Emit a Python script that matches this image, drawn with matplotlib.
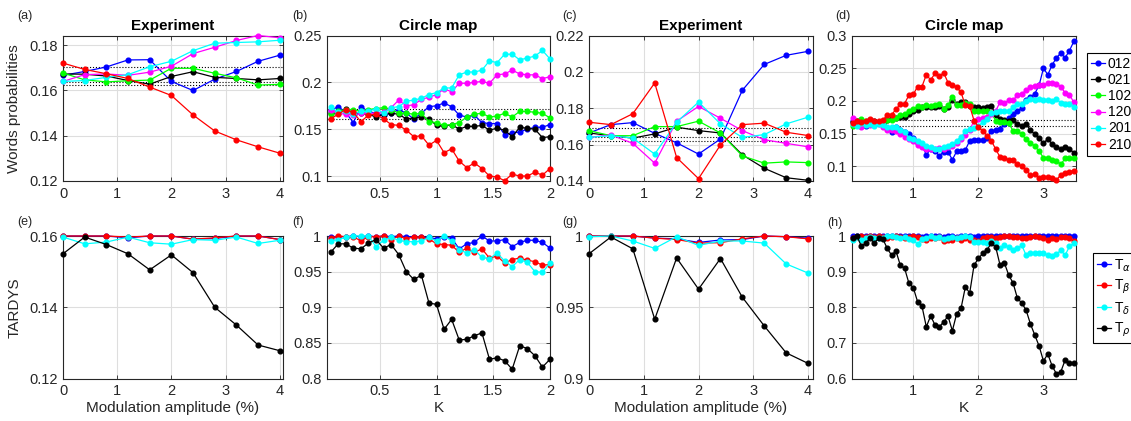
"""Words probabilities / TARDYS: experiment vs circle map, 2x4 panels."""
import numpy as np
import matplotlib
matplotlib.use("Agg")
import matplotlib.pyplot as plt

plt.rcParams['font.family'] = ['Liberation Sans', 'DejaVu Sans']

# ---- x values ----
amp = np.linspace(0, 4, 11)          # modulation amplitude (%)
K30 = np.arange(1, 31) / 15          # circle map K, panels (b), (f)
K52 = np.arange(1, 53) / 15          # circle map K, panels (d), (h)

words = ['012', '021', '102', '120', '201', '210']
word_colors = ['#0000ff', '#000000', '#00ff00', '#ff00ff', '#00ffff', '#ff0000']
tardys = ['T$_\\alpha$', 'T$_\\beta$', 'T$_\\delta$', 'T$_\\rho$']
tardys_colors = ['#0000ff', '#ff0000', '#00ffff', '#000000']

# ---- (a) experiment, words ----
a_012 = [0.1667, 0.1684, 0.1704, 0.1735, 0.1736, 0.1640, 0.1600, 0.1650, 0.1684, 0.1729, 0.1756]
a_021 = [0.1673, 0.1672, 0.1664, 0.1644, 0.1628, 0.1662, 0.1683, 0.1658, 0.1653, 0.1647, 0.1653]
a_102 = [0.1677, 0.1647, 0.1638, 0.1643, 0.1646, 0.1698, 0.1698, 0.1676, 0.1656, 0.1624, 0.1627]
a_120 = [0.1640, 0.1670, 0.1673, 0.1667, 0.1681, 0.1707, 0.1763, 0.1791, 0.1821, 0.1843, 0.1833]
a_201 = [0.1640, 0.1644, 0.1658, 0.1670, 0.1705, 0.1729, 0.1776, 0.1809, 0.1812, 0.1815, 0.1822]
a_210 = [0.1721, 0.1693, 0.1674, 0.1653, 0.1615, 0.1578, 0.1492, 0.1421, 0.1382, 0.1351, 0.1323]
a_bounds = [0.1704, 0.1636, 0.1625]

# ---- (b) circle map, words ----
b_012 = [0.170, 0.174, 0.168, 0.157, 0.174, 0.169, 0.167, 0.165, 0.167, 0.171, 0.167, 0.161, 0.167, 0.174, 0.175,
         0.178, 0.174, 0.165, 0.163, 0.165, 0.157, 0.156, 0.156, 0.144, 0.146, 0.147, 0.150, 0.152, 0.152, 0.155]
b_021 = [0.167, 0.167, 0.172, 0.167, 0.167, 0.166, 0.163, 0.166, 0.167, 0.166, 0.161, 0.162, 0.163, 0.161, 0.154,
         0.153, 0.155, 0.150, 0.153, 0.153, 0.154, 0.149, 0.151, 0.149, 0.142, 0.152, 0.151, 0.150, 0.141, 0.142]
b_102 = [0.166, 0.169, 0.171, 0.171, 0.169, 0.171, 0.172, 0.173, 0.171, 0.167, 0.167, 0.166, 0.167, 0.158, 0.157,
         0.154, 0.155, 0.157, 0.163, 0.166, 0.167, 0.163, 0.164, 0.167, 0.163, 0.169, 0.169, 0.168, 0.167, 0.162]
b_120 = [0.170, 0.167, 0.166, 0.165, 0.167, 0.167, 0.167, 0.168, 0.173, 0.181, 0.175, 0.176, 0.182, 0.184, 0.187,
         0.193, 0.190, 0.199, 0.199, 0.200, 0.201, 0.199, 0.208, 0.209, 0.213, 0.209, 0.208, 0.208, 0.204, 0.206]
b_201 = [0.174, 0.168, 0.169, 0.166, 0.169, 0.169, 0.172, 0.167, 0.173, 0.174, 0.180, 0.181, 0.183, 0.187, 0.189,
         0.194, 0.194, 0.208, 0.211, 0.211, 0.213, 0.223, 0.221, 0.230, 0.230, 0.224, 0.226, 0.228, 0.234, 0.225]
b_210 = [0.161, 0.166, 0.171, 0.168, 0.158, 0.165, 0.166, 0.161, 0.155, 0.154, 0.149, 0.142, 0.143, 0.133, 0.138,
         0.125, 0.129, 0.116, 0.109, 0.114, 0.108, 0.100, 0.099, 0.095, 0.102, 0.100, 0.100, 0.104, 0.101, 0.108]
b_bounds = [0.1715, 0.1612]

# ---- (c) experiment, words ----
c_012 = [0.1664, 0.1710, 0.1721, 0.1662, 0.1610, 0.1548, 0.1631, 0.1899, 0.2041, 0.2091, 0.2113]
c_021 = [0.1664, 0.1649, 0.1636, 0.1659, 0.1696, 0.1677, 0.1664, 0.1544, 0.1470, 0.1418, 0.1404]
c_102 = [0.1677, 0.1649, 0.1649, 0.1699, 0.1699, 0.1729, 0.1664, 0.1538, 0.1498, 0.1505, 0.1501]
c_120 = [0.1640, 0.1653, 0.1607, 0.1498, 0.1729, 0.1810, 0.1745, 0.1677, 0.1627, 0.1607, 0.1588]
c_201 = [0.1640, 0.1649, 0.1636, 0.1548, 0.1723, 0.1834, 0.1714, 0.1640, 0.1655, 0.1714, 0.1751]
c_210 = [0.1723, 0.1710, 0.1770, 0.1939, 0.1529, 0.1413, 0.1598, 0.1710, 0.1718, 0.1668, 0.1650]
c_bounds = [0.1692, 0.1640, 0.1622]

# ---- (d) circle map, words ----
d_012 = [0.170, 0.163, 0.165, 0.162, 0.166, 0.163, 0.166, 0.165, 0.158, 0.153, 0.160, 0.156, 0.152,
         0.149, 0.143, 0.136, 0.131, 0.118, 0.126, 0.123, 0.116, 0.122, 0.122, 0.110, 0.123, 0.124,
         0.125, 0.139, 0.140, 0.140, 0.140, 0.144, 0.154, 0.155, 0.157, 0.165, 0.174, 0.180, 0.185,
         0.189, 0.201, 0.206, 0.211, 0.224, 0.250, 0.240, 0.255, 0.266, 0.273, 0.266, 0.277, 0.291]
d_021 = [0.168, 0.170, 0.169, 0.168, 0.167, 0.169, 0.168, 0.167, 0.171, 0.174, 0.174, 0.175, 0.176,
         0.180, 0.184, 0.186, 0.190, 0.190, 0.191, 0.191, 0.192, 0.187, 0.191, 0.201, 0.195, 0.198,
         0.198, 0.192, 0.191, 0.190, 0.189, 0.190, 0.192, 0.179, 0.172, 0.171, 0.170, 0.171, 0.165,
         0.162, 0.165, 0.155, 0.149, 0.143, 0.135, 0.142, 0.134, 0.129, 0.126, 0.129, 0.126, 0.121]
d_102 = [0.161, 0.165, 0.172, 0.170, 0.167, 0.168, 0.166, 0.165, 0.171, 0.171, 0.174, 0.178, 0.180,
         0.185, 0.188, 0.192, 0.191, 0.193, 0.192, 0.193, 0.196, 0.188, 0.193, 0.206, 0.193, 0.193,
         0.197, 0.195, 0.185, 0.184, 0.184, 0.184, 0.181, 0.170, 0.167, 0.167, 0.166, 0.154, 0.154,
         0.149, 0.141, 0.136, 0.131, 0.123, 0.113, 0.113, 0.110, 0.108, 0.103, 0.112, 0.112, 0.113]
d_120 = [0.174, 0.163, 0.160, 0.167, 0.163, 0.168, 0.165, 0.160, 0.155, 0.155, 0.154, 0.150, 0.145,
         0.141, 0.139, 0.132, 0.130, 0.126, 0.127, 0.126, 0.128, 0.127, 0.130, 0.131, 0.136, 0.141,
         0.148, 0.155, 0.170, 0.172, 0.174, 0.176, 0.180, 0.185, 0.198, 0.197, 0.201, 0.201, 0.209,
         0.211, 0.216, 0.222, 0.223, 0.224, 0.224, 0.227, 0.228, 0.226, 0.222, 0.212, 0.209, 0.198]
d_201 = [0.165, 0.162, 0.166, 0.163, 0.164, 0.162, 0.165, 0.163, 0.160, 0.160, 0.160, 0.155, 0.152,
         0.144, 0.141, 0.139, 0.136, 0.131, 0.130, 0.126, 0.127, 0.130, 0.131, 0.134, 0.139, 0.145,
         0.154, 0.157, 0.158, 0.162, 0.167, 0.172, 0.181, 0.183, 0.185, 0.184, 0.185, 0.190, 0.195,
         0.195, 0.200, 0.203, 0.202, 0.203, 0.201, 0.201, 0.200, 0.203, 0.197, 0.196, 0.195, 0.191]
d_210 = [0.166, 0.170, 0.168, 0.170, 0.172, 0.170, 0.169, 0.171, 0.178, 0.179, 0.187, 0.195, 0.196,
         0.209, 0.210, 0.222, 0.222, 0.240, 0.232, 0.242, 0.238, 0.243, 0.228, 0.225, 0.221, 0.213,
         0.193, 0.192, 0.170, 0.160, 0.154, 0.147, 0.139, 0.126, 0.114, 0.113, 0.110, 0.110, 0.103,
         0.100, 0.095, 0.086, 0.088, 0.082, 0.084, 0.084, 0.082, 0.079, 0.087, 0.090, 0.092, 0.093]
d_bounds = [0.1715, 0.1612]

# ---- (e) experiment, TARDYS ----
e_alpha = [0.1600, 0.1600, 0.1600, 0.1595, 0.1600, 0.1600, 0.1591, 0.1593, 0.1600, 0.1600, 0.1590]
e_beta = [0.1600, 0.1600, 0.1600, 0.1597, 0.1600, 0.1600, 0.1591, 0.1595, 0.1600, 0.1600, 0.1590]
e_delta = [0.1597, 0.1578, 0.1583, 0.1597, 0.1581, 0.1577, 0.1590, 0.1588, 0.1597, 0.1579, 0.1588]
e_rho = [0.1550, 0.1597, 0.1576, 0.1550, 0.1505, 0.1547, 0.1497, 0.1400, 0.1350, 0.1294, 0.1278]

# ---- (f) circle map, TARDYS ----
f_alpha = [0.998, 0.999, 0.999, 1.000, 0.999, 1.000, 0.999, 1.000, 0.999, 1.000, 0.999, 0.999, 0.998, 0.998, 0.996,
           0.998, 0.997, 0.982, 0.989, 0.991, 1.000, 0.993, 0.993, 0.995, 0.985, 0.991, 0.994, 0.994, 0.991, 0.983]
f_beta = [0.997, 1.000, 0.999, 0.999, 0.993, 0.999, 0.999, 1.000, 0.995, 1.000, 0.996, 0.999, 0.998, 0.996, 0.989,
          0.988, 0.987, 0.977, 0.983, 0.977, 0.982, 0.969, 0.972, 0.962, 0.967, 0.969, 0.966, 0.964, 0.959, 0.960]
f_delta = [0.993, 0.995, 0.998, 1.000, 1.000, 1.000, 0.985, 0.994, 0.998, 0.994, 0.992, 0.992, 0.993, 0.998, 0.993,
           1.000, 0.993, 0.981, 0.976, 0.981, 0.970, 0.968, 0.976, 0.965, 0.957, 0.967, 0.963, 0.950, 0.949, 0.962]
f_rho = [0.977, 0.989, 0.989, 0.983, 0.982, 0.990, 0.995, 0.983, 0.988, 0.974, 0.950, 0.939, 0.945, 0.906, 0.904,
         0.869, 0.883, 0.854, 0.855, 0.860, 0.864, 0.827, 0.829, 0.825, 0.813, 0.846, 0.842, 0.832, 0.816, 0.827]

# ---- (g) experiment, TARDYS ----
g_alpha = [1.0000, 1.0000, 1.0000, 0.9985, 0.9980, 0.9955, 0.9972, 0.9975, 1.0000, 0.9995, 0.9985]
g_beta = [1.0000, 1.0000, 1.0000, 0.9985, 0.9975, 0.9950, 0.9953, 0.9980, 1.0000, 0.9995, 0.9980]
g_delta = [0.9995, 1.0000, 0.9965, 0.9913, 0.9995, 0.9934, 0.9965, 0.9965, 0.9950, 0.9804, 0.9740]
g_rho = [0.9875, 0.9993, 0.9910, 0.9416, 0.9846, 0.9627, 0.9842, 0.9570, 0.9369, 0.9180, 0.9106]

# ---- (h) circle map, TARDYS ----
h_alpha = [0.999, 1.000, 0.999, 1.000, 0.999, 1.000, 0.999, 0.999, 1.000, 0.999, 1.000, 0.999, 0.999,
           1.000, 0.999, 0.999, 0.998, 0.999, 1.000, 0.999, 0.999, 0.998, 0.999, 0.999, 0.998, 0.999,
           0.999, 0.999, 0.998, 0.999, 1.000, 0.999, 0.999, 1.000, 0.999, 1.000, 0.999, 0.999, 1.000,
           0.999, 0.999, 1.000, 0.999, 0.999, 1.000, 0.999, 0.999, 1.000, 0.999, 0.999, 1.000, 0.999]
h_beta = [0.993, 0.997, 0.999, 0.998, 1.000, 0.996, 0.999, 0.998, 0.995, 0.997, 0.999, 0.997, 0.995,
          0.998, 0.999, 0.996, 0.992, 0.990, 0.995, 0.993, 0.996, 0.985, 0.990, 0.988, 0.993, 0.990,
          0.995, 0.990, 0.988, 0.985, 0.995, 0.998, 0.997, 0.995, 0.997, 0.999, 1.000, 0.997, 0.998,
          0.995, 0.993, 0.997, 1.000, 0.998, 0.993, 0.990, 0.994, 0.991, 0.996, 0.998, 0.993, 0.986]
h_delta = [0.988, 0.997, 0.990, 0.995, 0.997, 0.995, 0.995, 0.995, 0.999, 0.999, 0.997, 0.995, 0.997,
           0.992, 0.988, 0.977, 0.992, 0.995, 0.999, 0.995, 0.997, 0.992, 0.995, 0.997, 0.995, 0.997,
           0.999, 0.997, 0.983, 0.983, 0.983, 0.980, 0.986, 0.980, 0.967, 0.974, 0.969, 0.962, 0.965,
           0.974, 0.946, 0.952, 0.952, 0.952, 0.952, 0.946, 0.943, 0.949, 0.960, 0.946, 0.971, 0.980]
h_rho = [0.995, 1.000, 0.972, 0.980, 0.993, 0.981, 0.993, 0.991, 0.965, 0.946, 0.958, 0.918, 0.909,
         0.867, 0.855, 0.815, 0.803, 0.745, 0.776, 0.750, 0.745, 0.759, 0.775, 0.734, 0.782, 0.797,
         0.857, 0.840, 0.918, 0.937, 0.951, 0.962, 0.979, 0.969, 0.918, 0.924, 0.890, 0.868, 0.825,
         0.812, 0.792, 0.753, 0.722, 0.691, 0.649, 0.669, 0.635, 0.613, 0.619, 0.652, 0.643, 0.643]

# tick labels
amp_ticks = [0, 1, 2, 3, 4]
amp_labels = ['0', '1', '2', '3', '4']
kb_ticks = [0.5, 1, 1.5, 2]
kb_labels = ['0.5', '1', '1.5', '2']
kd_ticks = [1, 2, 3]
kd_labels = ['1', '2', '3']

W, H = 1131, 421
fig = plt.figure(figsize=(W / 100, H / 100), dpi=100)


def box(l, t, r, b):
    return [l / W, 1 - b / H, (r - l) / W, (b - t) / H]


cols = [(63, 283), (327, 550), (589, 813), (852, 1076)]
top_row = [fig.add_axes(box(l, 35.5, r, 181)) for l, r in cols]
bot_row = [fig.add_axes(box(l, 236, r, 378.5)) for l, r in cols]


def style(ax, xlim, ylim, xt, xl, yt, yl):
    ax.set_xlim(xlim); ax.set_ylim(ylim)
    ax.set_xticks(xt); ax.set_xticklabels(xl)
    ax.set_yticks(yt); ax.set_yticklabels(yl)
    ax.grid(True, color='#dedede', lw=0.8)
    ax.set_axisbelow(True)
    ax.tick_params(direction='in', length=3, width=0.6, labelsize=10.5,
                   colors='#262626', pad=4, top=True, right=True)
    for s in ax.spines.values():
        s.set_color('#262626'); s.set_linewidth(0.8)


def draw(ax, x, series, colors):
    hs = []
    for y, c in zip(series, colors):
        h, = ax.plot(x, y, '-o', color=c, lw=0.9, ms=3.4, clip_on=False, zorder=3)
        hs.append(h)
    return hs


# top row: words probabilities
ax = top_row[0]
draw(ax, amp, [a_012, a_021, a_102, a_120, a_201, a_210], word_colors)
for v in a_bounds:
    ax.axhline(v, color='k', ls=':', lw=0.8, zorder=2)
style(ax, (0, 4.06), (0.12, 0.1843), amp_ticks, amp_labels,
      [0.12, 0.14, 0.16, 0.18], ['0.12', '0.14', '0.16', '0.18'])
ax.set_title('Experiment', fontweight='bold', fontsize=11, pad=4)

ax = top_row[1]
draw(ax, K30, [b_012, b_021, b_102, b_120, b_201, b_210], word_colors)
for v in b_bounds:
    ax.axhline(v, color='k', ls=':', lw=0.8, zorder=2)
style(ax, (0.035, 2), (0.0947, 0.25), kb_ticks, kb_labels,
      [0.1, 0.15, 0.2, 0.25], ['0.1', '0.15', '0.2', '0.25'])
ax.set_title('Circle map', fontweight='bold', fontsize=11, pad=4)

ax = top_row[2]
draw(ax, amp, [c_012, c_021, c_102, c_120, c_201, c_210], word_colors)
for v in c_bounds:
    ax.axhline(v, color='k', ls=':', lw=0.8, zorder=2)
style(ax, (0, 4.09), (0.14, 0.22), amp_ticks, amp_labels,
      [0.14, 0.16, 0.18, 0.2, 0.22], ['0.14', '0.16', '0.18', '0.2', '0.22'])
ax.set_title('Experiment', fontweight='bold', fontsize=11, pad=4)

ax = top_row[3]
word_handles = draw(ax, K52, [d_012, d_021, d_102, d_120, d_201, d_210], word_colors)
for v in d_bounds:
    ax.axhline(v, color='k', ls=':', lw=0.8, zorder=2)
style(ax, (0.058, 3.5), (0.0775, 0.3), kd_ticks, kd_labels,
      [0.1, 0.15, 0.2, 0.25, 0.3], ['0.1', '0.15', '0.2', '0.25', '0.3'])
ax.set_title('Circle map', fontweight='bold', fontsize=11, pad=4)

# bottom row: TARDYS
ax = bot_row[0]
draw(ax, amp, [e_alpha, e_beta, e_delta, e_rho], tardys_colors)
style(ax, (0, 4.06), (0.12, 0.16), amp_ticks, amp_labels,
      [0.12, 0.14, 0.16], ['0.12', '0.14', '0.16'])
ax.set_xlabel('Modulation amplitude (%)', fontsize=11, labelpad=2, color='#262626')

ax = bot_row[1]
draw(ax, K30, [f_alpha, f_beta, f_delta, f_rho], tardys_colors)
style(ax, (0.035, 2), (0.8, 1.0), kb_ticks, kb_labels,
      [0.8, 0.85, 0.9, 0.95, 1.0], ['0.8', '0.85', '0.9', '0.95', '1'])
ax.set_xlabel('K', fontsize=11, labelpad=2, color='#262626')

ax = bot_row[2]
draw(ax, amp, [g_alpha, g_beta, g_delta, g_rho], tardys_colors)
style(ax, (0, 4.09), (0.9, 1.0), amp_ticks, amp_labels,
      [0.9, 0.95, 1.0], ['0.9', '0.95', '1'])
ax.set_xlabel('Modulation amplitude (%)', fontsize=11, labelpad=2, color='#262626')

ax = bot_row[3]
tardys_handles = draw(ax, K52, [h_alpha, h_beta, h_delta, h_rho], tardys_colors)
style(ax, (0.058, 3.5), (0.6, 1.0), kd_ticks, kd_labels,
      [0.6, 0.7, 0.8, 0.9, 1.0], ['0.6', '0.7', '0.8', '0.9', '1'])
ax.set_xlabel('K', fontsize=11, labelpad=2, color='#262626')

# y labels
top_row[0].set_ylabel('Words probabilities', fontsize=11, color='#262626')
bot_row[0].set_ylabel('TARDYS', fontsize=11, color='#262626')
top_row[0].yaxis.set_label_coords(-0.19, 0.5)
bot_row[0].yaxis.set_label_coords(-0.19, 0.5)

# panel letters
for lab, (px, py) in zip('abcdefgh', [(17, 16), (292, 16), (562, 16), (835, 16),
                                      (17, 222), (292, 222), (562, 222), (827, 223)]):
    fig.text(px / W, 1 - py / H, f'({lab})', fontsize=9, ha='left', va='center', color='#262626')

leg_kw = dict(loc='upper left', fontsize=10, handlelength=1.0, handletextpad=0.2,
              borderpad=0.3, borderaxespad=0, fancybox=False,
              framealpha=1, edgecolor='k')
l1 = fig.legend(word_handles, words, bbox_to_anchor=(1087 / W, 1 - 53 / H),
                labelspacing=0.15, **leg_kw)
l2 = fig.legend(tardys_handles, tardys, bbox_to_anchor=(1093 / W, 1 - 253 / H),
                labelspacing=0.3, **leg_kw)
for lg in (l1, l2):
    lg.get_frame().set_linewidth(0.8)

fig.savefig('out.png', dpi=100)
